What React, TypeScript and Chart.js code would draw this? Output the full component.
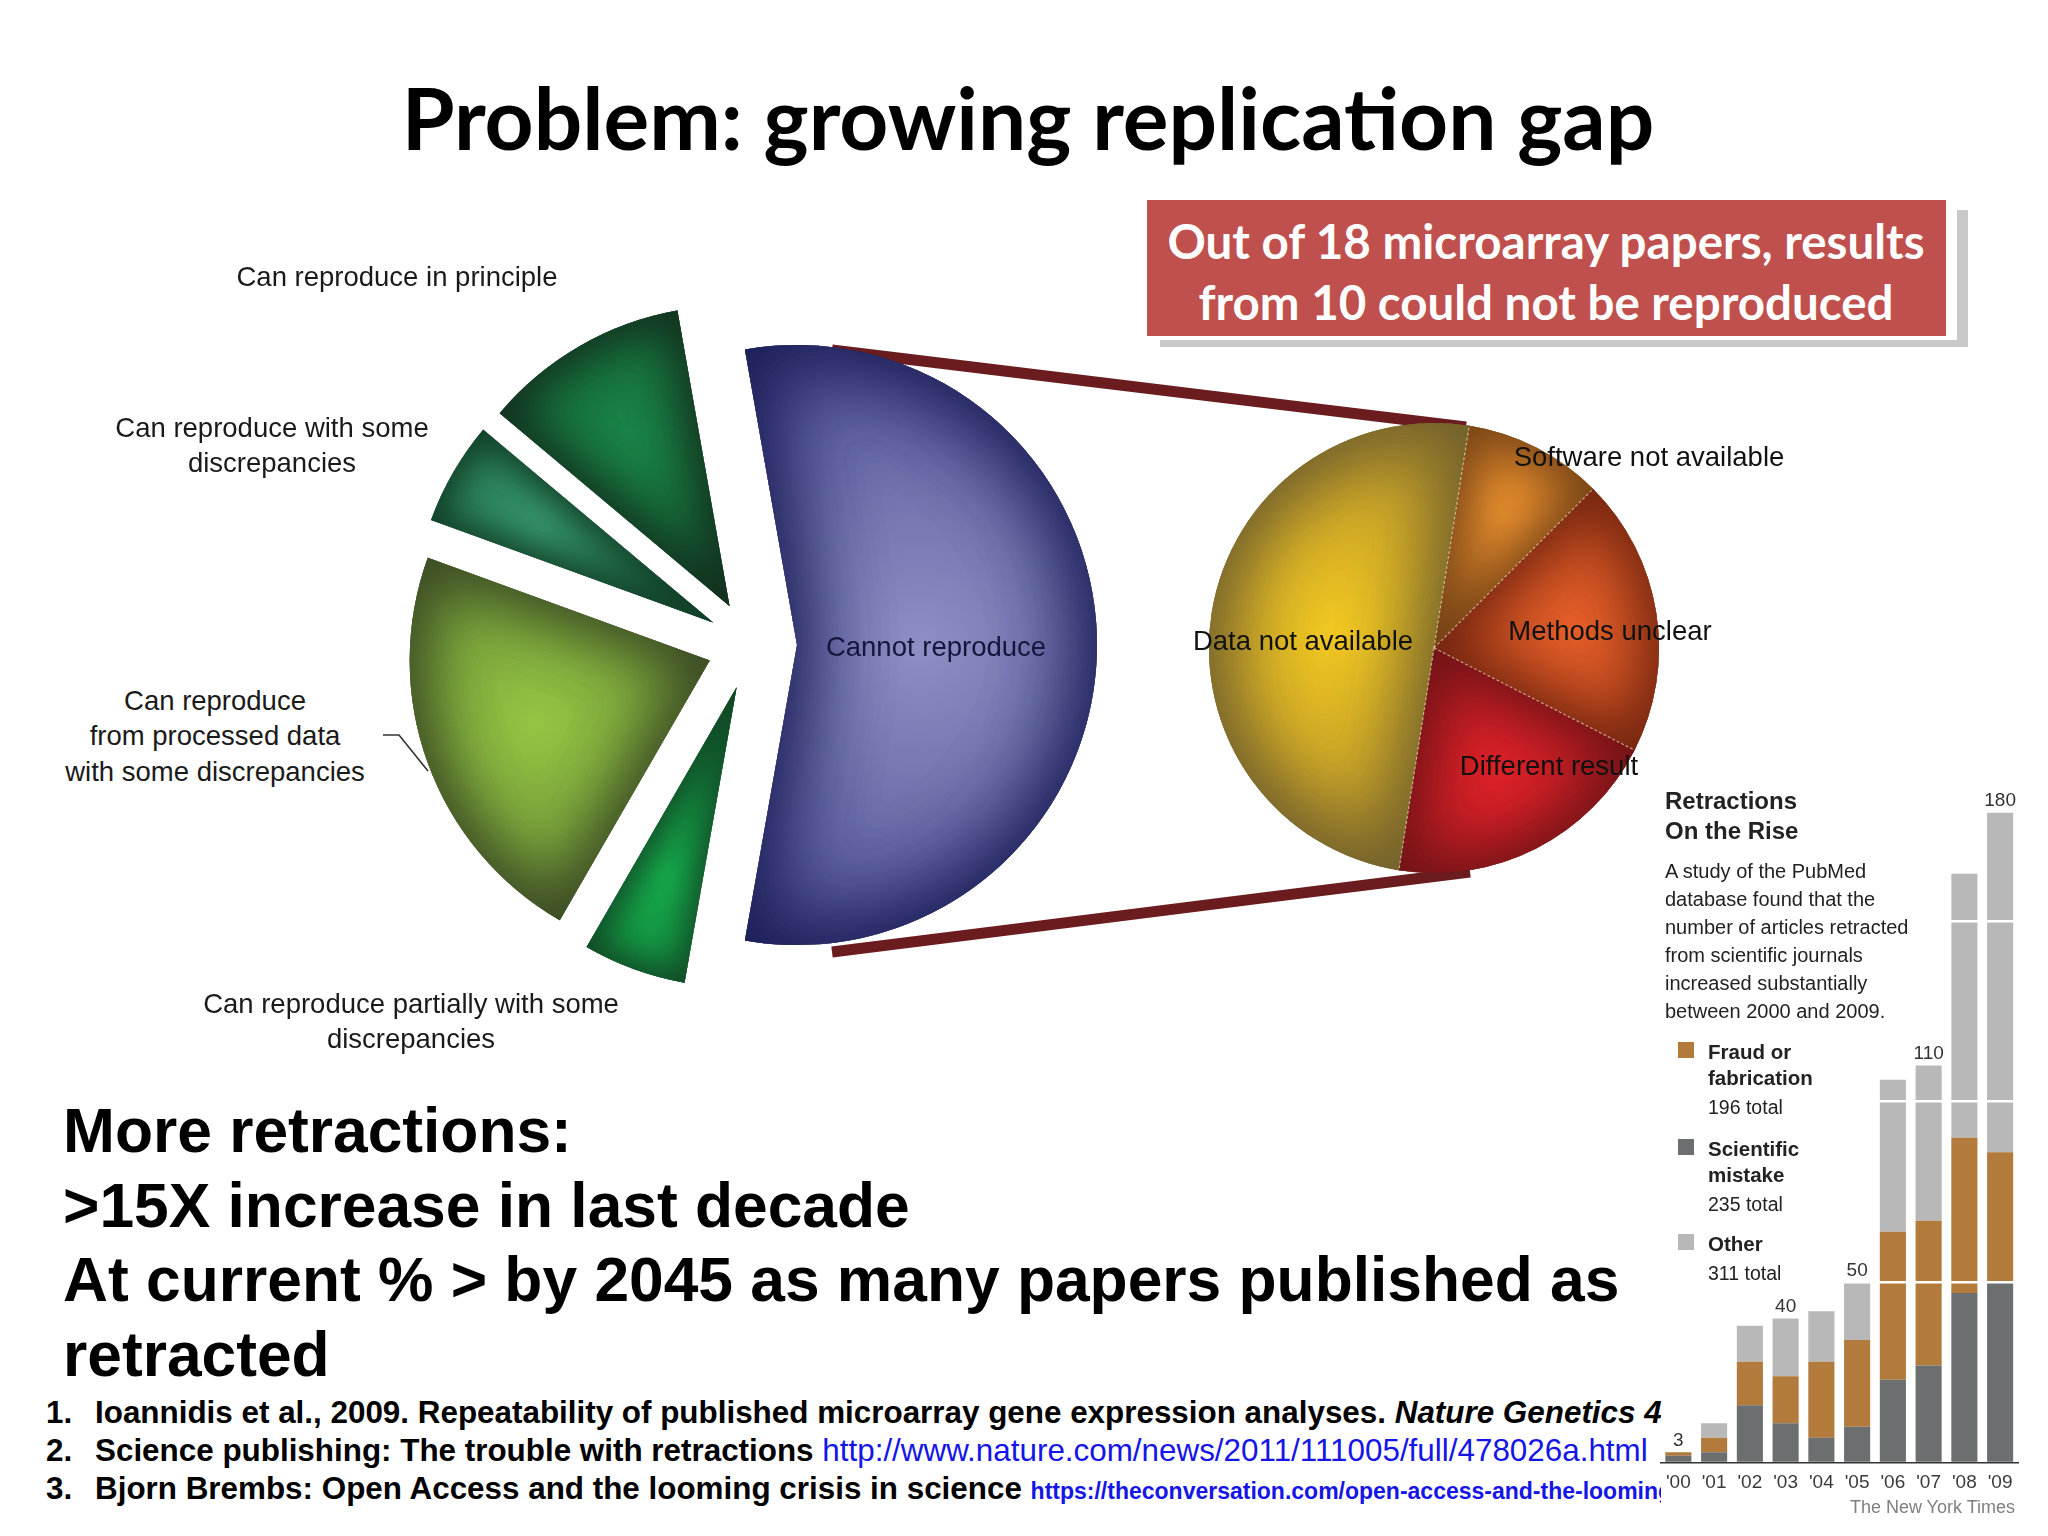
import React, { useEffect, useRef } from "react";
import { Chart, registerables } from "chart.js";

Chart.register(...registerables);

/* ---------------- data ---------------- */
const titleText = "Problem: growing replication gap";
const calloutLines = ["Out of 18 microarray papers, results", "from 10 could not be reproduced"];

const reproLabels = [
  "Cannot reproduce",
  "Can reproduce partially with some discrepancies",
  "Can reproduce from processed data with some discrepancies",
  "Can reproduce with some discrepancies",
  "Can reproduce in principle",
];
const reproCounts = [10, 1, 4, 1, 2];
const reproLabelLines = [
  ["Cannot reproduce"],
  ["Can reproduce partially with some", "discrepancies"],
  ["Can reproduce", "from processed data", "with some discrepancies"],
  ["Can reproduce with some", "discrepancies"],
  ["Can reproduce in principle"],
];

const failureLabels = ["Software not available", "Methods unclear", "Different result", "Data not available"];
const failureCounts = [1, 2, 2, 5];

const retractionYears = ["'00", "'01", "'02", "'03", "'04", "'05", "'06", "'07", "'08", "'09"];
const mistakeCounts = [2, 3, 16, 11, 7, 10, 23, 27, 47, 50];
const fraudCounts = [1, 4, 12, 13, 21, 24, 41, 40, 43, 36];
const otherCounts = [0, 4, 10, 16, 14, 16, 42, 43, 73, 94];
const labelledYears = ["'00", "'03", "'05", "'07", "'09"];
const gridValues = [50, 100, 150];

const panelTitle = ["Retractions", "On the Rise"];
const panelNote = [
  "A study of the PubMed",
  "database found that the",
  "number of articles retracted",
  "from scientific journals",
  "increased substantially",
  "between 2000 and 2009.",
];
const legendNames = [["Fraud or", "fabrication"], ["Scientific", "mistake"], ["Other"]];
const legendTotals = ["196 total", "235 total", "311 total"];
const creditText = "The New York Times";

const bulletLines = [
  "More retractions:",
  ">15X increase in last decade",
  "At current % > by 2045 as many papers published as",
  "retracted",
];

type Part = { t: string; k: "b" | "i" | "url" | "urlSmall" };
const references: { n: string; parts: Part[] }[] = [
  {
    n: "1.",
    parts: [
      { t: "Ioannidis et al., 2009. Repeatability of published microarray gene expression analyses. ", k: "b" },
      { t: "Nature Genetics 4", k: "i" },
    ],
  },
  {
    n: "2.",
    parts: [
      { t: "Science publishing: The trouble with retractions ", k: "b" },
      { t: "http://www.nature.com/news/2011/111005/full/478026a.html", k: "url" },
    ],
  },
  {
    n: "3.",
    parts: [
      { t: "Bjorn Brembs: Open Access and the looming crisis in science ", k: "b" },
      { t: "https://theconversation.com/open-access-and-the-looming", k: "urlSmall" },
    ],
  },
];

/* ---------------- styles / layout ---------------- */
const SANS = '"Liberation Sans", Arial, Helvetica, sans-serif';
const LATO = 'Lato, "Open Sans", sans-serif';

type PieGeo = { cx: number; cy: number; r: number; explode: number; rotation: number; size: number; seam: boolean };
type SliceStyle = { light: string; rim: string; shade: string; blur: number; passes: number; focus: number; spread: number };

const LEFT: PieGeo = { cx: 752, cy: 645, r: 300, explode: 45, rotation: -10, size: 760, seam: false };
const RIGHT: PieGeo = { cx: 1434, cy: 648, r: 225, explode: 0, rotation: 9, size: 500, seam: true };

const leftStyles: SliceStyle[] = [
  { light: "#8d90c4", rim: "#585b9b", shade: "rgba(24,27,84,0.95)", blur: 90, passes: 2, focus: 1.1, spread: 0.95 },
  { light: "#17b04f", rim: "#13873d", shade: "rgba(18,72,38,0.95)", blur: 40, passes: 2, focus: 1.0, spread: 0.45 },
  { light: "#93c543", rim: "#6f9439", shade: "rgba(58,72,36,0.95)", blur: 70, passes: 2, focus: 1.0, spread: 0.6 },
  { light: "#389a6c", rim: "#23714b", shade: "rgba(18,62,40,0.95)", blur: 40, passes: 2, focus: 1.0, spread: 0.45 },
  { light: "#1b8549", rim: "#146336", shade: "rgba(20,48,30,0.95)", blur: 55, passes: 2, focus: 1.0, spread: 0.55 },
];
const rightStyles: SliceStyle[] = [
  { light: "#f09530", rim: "#c27226", shade: "rgba(112,64,22,0.9)", blur: 60, passes: 2, focus: 1.0, spread: 0.6 },
  { light: "#e6602a", rim: "#b6471e", shade: "rgba(112,36,16,0.9)", blur: 65, passes: 2, focus: 1.0, spread: 0.6 },
  { light: "#df2229", rim: "#ad1c23", shade: "rgba(108,20,22,0.9)", blur: 65, passes: 2, focus: 1.0, spread: 0.6 },
  { light: "#f2c922", rim: "#c49f2a", shade: "rgba(108,92,46,0.95)", blur: 85, passes: 2, focus: 1.0, spread: 0.8 },
];

const barColors = { mistake: "#6c6f6f", fraud: "#b27a3b", other: "#b8b8b8" };
const legendColors = [barColors.fraud, barColors.mistake, barColors.other];

const leftLabelPos = [
  { x: 936, y: 646, color: "#16163c" },
  { x: 411, y: 1003, color: "#1a1a1a" },
  { x: 215, y: 700, color: "#1a1a1a" },
  { x: 272, y: 427, color: "#1a1a1a" },
  { x: 397, y: 276, color: "#1a1a1a" },
];
const rightLabelPos = [
  { x: 1649, y: 456 },
  { x: 1610, y: 630 },
  { x: 1549, y: 765 },
  { x: 1303, y: 640 },
];

/* ---------------- charts ---------------- */
function makePie(canvas: HTMLCanvasElement, labels: string[], counts: number[], geo: PieGeo, styles: SliceStyle[]) {
  const total = counts.reduce((a, b) => a + b, 0);
  const fill = (c: any) => {
    const st = styles[c.dataIndex];
    const ca = c.chart.chartArea;
    if (!ca) return st.rim;
    const i = c.dataIndex;
    let before = 0;
    for (let k = 0; k < i; k++) before += counts[k];
    const alpha = (counts[i] / total) * Math.PI * 2;
    const a0 = ((geo.rotation - 90) * Math.PI) / 180 + (before / total) * Math.PI * 2;
    const mid = a0 + alpha / 2;
    const ox = (ca.left + ca.right) / 2;
    const oy = (ca.top + ca.bottom) / 2;
    const cd = (4 * geo.r * Math.sin(alpha / 2)) / (3 * alpha);
    const gx = ox + Math.cos(mid) * cd * st.focus;
    const gy = oy + Math.sin(mid) * cd * st.focus;
    const g = c.chart.ctx.createRadialGradient(gx, gy, 0, gx, gy, geo.r * st.spread);
    g.addColorStop(0, st.light);
    g.addColorStop(1, st.rim);
    return g;
  };

  const shade = {
    id: "sliceShade",
    afterDatasetUpdate(chart: any, args: any) {
      const meta = chart.getDatasetMeta(args.index);
      meta.data.forEach((arc: any) => {
        const d = ((arc.options && arc.options.offset) || 0) / 4;
        const ro = d * (1 - Math.sin(Math.min(Math.PI, arc.circumference)));
        const w = ro / (2 * Math.PI * geo.r);
        const half = (arc.startAngle + arc.endAngle) / 2;
        arc.$geom = { x: arc.x + Math.cos(half) * d, y: arc.y + Math.sin(half) * d, a0: arc.startAngle, a1: arc.endAngle };
        arc.outerRadius = geo.r - ro;
        arc.startAngle -= w;
        arc.endAngle += w;
      });
    },
    afterDatasetsDraw(chart: any) {
      const ctx = chart.ctx as CanvasRenderingContext2D;
      const arcs = chart.getDatasetMeta(0).data;
      arcs.forEach((arc: any, i: number) => {
        const g = arc.$geom;
        if (!g) return;
        const st = styles[i];
        const path = () => {
          ctx.moveTo(g.x, g.y);
          ctx.arc(g.x, g.y, geo.r, g.a0, g.a1);
          ctx.closePath();
        };
        ctx.save();
        ctx.beginPath();
        path();
        ctx.clip();
        ctx.shadowColor = st.shade;
        ctx.shadowBlur = st.blur;
        ctx.fillStyle = st.shade;
        for (let k = 0; k < st.passes; k++) {
          ctx.beginPath();
          ctx.rect(-4000, -4000, 8000, 8000);
          path();
          ctx.fill("evenodd");
        }
        ctx.restore();
      });
      if (geo.seam) {
        ctx.save();
        ctx.strokeStyle = "rgba(255,236,200,0.6)";
        ctx.lineWidth = 1.2;
        ctx.setLineDash([3, 2]);
        arcs.forEach((arc: any) => {
          const g = arc.$geom;
          if (!g) return;
          ctx.beginPath();
          ctx.moveTo(g.x, g.y);
          ctx.lineTo(g.x + Math.cos(g.a0) * geo.r, g.y + Math.sin(g.a0) * geo.r);
          ctx.stroke();
        });
        ctx.restore();
      }
    },
  };

  return new Chart(canvas, {
    type: "pie",
    data: {
      labels,
      datasets: [
        {
          data: counts,
          backgroundColor: fill as any,
          borderWidth: 0,
          offset: geo.explode * 4,
        } as any,
      ],
    },
    options: {
      animation: false,
      responsive: false,
      events: [],
      rotation: geo.rotation,
      radius: geo.r,
      layout: { padding: 0 },
      plugins: { legend: { display: false }, tooltip: { enabled: false } },
    } as any,
    plugins: [shade as any],
  });
}

function makeBars(canvas: HTMLCanvasElement) {
  const totals = retractionYears.map((_, i) => mistakeCounts[i] + fraudCounts[i] + otherCounts[i]);
  const totalsPlugin = {
    id: "totals",
    afterDatasetsDraw(chart: any) {
      const ctx = chart.ctx as CanvasRenderingContext2D;
      const xs = chart.scales.x;
      const ys = chart.scales.y;
      ctx.save();
      ctx.font = `19px ${SANS}`;
      ctx.fillStyle = "#333";
      ctx.textAlign = "center";
      ctx.textBaseline = "alphabetic";
      retractionYears.forEach((yr, i) => {
        if (!labelledYears.includes(yr)) return;
        ctx.fillText(String(totals[i]), xs.getPixelForValue(i), ys.getPixelForValue(totals[i]) - 6);
      });
      ctx.restore();
    },
  };
  return new Chart(canvas, {
    type: "bar",
    data: {
      labels: retractionYears,
      datasets: [
        { label: "Scientific mistake", data: mistakeCounts, backgroundColor: barColors.mistake },
        { label: "Fraud or fabrication", data: fraudCounts, backgroundColor: barColors.fraud },
        { label: "Other", data: otherCounts, backgroundColor: barColors.other },
      ],
    },
    options: {
      animation: false,
      responsive: false,
      events: [],
      layout: { padding: { left: 10.5, right: 30, top: 42.4, bottom: 33 } },
      datasets: { bar: { barPercentage: 0.73, categoryPercentage: 1, borderWidth: 0 } },
      plugins: { legend: { display: false }, tooltip: { enabled: false } },
      scales: {
        x: {
          stacked: true,
          grid: { display: false, drawTicks: false },
          border: { display: true, color: "#333", width: 1.5 },
          ticks: { color: "#3a3a3a", font: { family: SANS, size: 19 }, padding: 8, autoSkip: false, maxRotation: 0 },
          afterFit: (s: any) => {
            s.height = 40;
          },
        },
        y: {
          stacked: true,
          min: 0,
          max: 180,
          ticks: { display: false, stepSize: 50 },
          grid: {
            color: (c: any) => (gridValues.includes(c.tick && c.tick.value) ? "#ffffff" : "rgba(0,0,0,0)"),
            lineWidth: 2.5,
            z: 1,
            drawTicks: false,
          },
          border: { display: false },
        },
      },
    } as any,
    plugins: [totalsPlugin as any],
  });
}

/* ---------------- text helper ---------------- */
function T(props: {
  x: number;
  y: number;
  size: number;
  text: string;
  align?: "left" | "center" | "right";
  weight?: number;
  color?: string;
  family?: string;
  mid?: number;
  z?: number;
  italic?: boolean;
}) {
  const { x, y, size, text, align = "left", weight = 400, color = "#000", family = SANS, mid = 0.6, z = 3, italic } = props;
  const tx = align === "center" ? "-50%" : align === "right" ? "-100%" : "0";
  return (
    <div
      style={{
        position: "absolute",
        left: x,
        top: y - size * mid,
        fontSize: size,
        lineHeight: `${size * 1.2}px`,
        whiteSpace: "pre",
        transform: `translateX(${tx})`,
        fontWeight: weight,
        fontStyle: italic ? "italic" : "normal",
        color,
        fontFamily: family,
        zIndex: z,
      }}
    >
      {text}
    </div>
  );
}

export default function App() {
  const leftRef = useRef<HTMLCanvasElement>(null);
  const rightRef = useRef<HTMLCanvasElement>(null);
  const barRef = useRef<HTMLCanvasElement>(null);

  useEffect(() => {
    const charts: Chart[] = [];
    if (leftRef.current) charts.push(makePie(leftRef.current, reproLabels, reproCounts, LEFT, leftStyles));
    if (rightRef.current) charts.push(makePie(rightRef.current, failureLabels, failureCounts, RIGHT, rightStyles));
    if (barRef.current) charts.push(makeBars(barRef.current));
    return () => charts.forEach((c) => c.destroy());
  }, []);

  const refY = [1413, 1451, 1489];
  const refSize = 31.4;
  const partStyle = (k: Part["k"]): React.CSSProperties => {
    if (k === "i") return { fontStyle: "italic", fontWeight: 700, color: "#000" };
    if (k === "url") return { fontWeight: 400, color: "#1515e8" };
    if (k === "urlSmall") return { fontWeight: 700, color: "#1515e8", fontSize: 23 };
    return { fontWeight: 700, color: "#000" };
  };

  return (
    <div
      style={{
        position: "absolute",
        left: 0,
        top: 0,
        width: 2048,
        height: 1536,
        overflow: "hidden",
        background: "#ffffff",
        fontFamily: SANS,
      }}
    >
      {/* connectors & leader */}
      <svg width={2048} height={1536} style={{ position: "absolute", left: 0, top: 0, zIndex: 1 }}>
        <line x1={832} y1={350} x2={1466} y2={427} stroke="#6a1c1f" strokeWidth={11} />
        <line x1={832} y1={952} x2={1470} y2={872} stroke="#6a1c1f" strokeWidth={11} />
        <polyline points="383,735 399,735 428,771" fill="none" stroke="#333" strokeWidth={1.6} />
      </svg>

      <canvas
        ref={leftRef}
        width={LEFT.size}
        height={LEFT.size}
        style={{ position: "absolute", left: LEFT.cx - LEFT.size / 2, top: LEFT.cy - LEFT.size / 2, width: LEFT.size, height: LEFT.size, zIndex: 2 }}
      />
      <canvas
        ref={rightRef}
        width={RIGHT.size}
        height={RIGHT.size}
        style={{ position: "absolute", left: RIGHT.cx - RIGHT.size / 2, top: RIGHT.cy - RIGHT.size / 2, width: RIGHT.size, height: RIGHT.size, zIndex: 2 }}
      />

      {/* title */}
      <T x={1028} y={120} size={85.5} text={titleText} align="center" weight={700} family={LATO} mid={0.63} />

      {/* callout box */}
      <div style={{ position: "absolute", left: 1160, top: 210, width: 808, height: 137, background: "#c9c9c9", zIndex: 3 }} />
      <div style={{ position: "absolute", left: 1140, top: 192, width: 817, height: 148, background: "#ffffff", zIndex: 3 }} />
      <div style={{ position: "absolute", left: 1147, top: 200, width: 799, height: 136, background: "#c0504d", zIndex: 3 }} />
      {calloutLines.map((l, i) => (
        <T key={l} x={1546} y={242 + i * 61} size={47.5} text={l} align="center" weight={700} family={LATO} color="#ffffff" mid={0.63} z={4} />
      ))}

      {/* left pie labels */}
      {reproLabelLines.map((lines, i) =>
        lines.map((l, j) => (
          <T key={`${i}-${j}`} x={leftLabelPos[i].x} y={leftLabelPos[i].y + j * 35.5} size={27.5} text={l} align="center" color={leftLabelPos[i].color} />
        ))
      )}
      {/* right pie labels */}
      {failureLabels.map((l, i) => (
        <T key={l} x={rightLabelPos[i].x} y={rightLabelPos[i].y} size={27.5} text={l} align="center" color="#111" />
      ))}

      {/* bullet text */}
      {bulletLines.map((l, i) => (
        <T key={l} x={63} y={1131 + i * 74.9} size={62.3} text={l} weight={700} color="#000" />
      ))}

      {/* references */}
      {references.map((r, i) => (
        <React.Fragment key={r.n}>
          <T x={46} y={refY[i]} size={refSize} text={r.n} weight={700} />
          <div
            style={{
              position: "absolute",
              left: 95,
              top: refY[i] - refSize * 0.6,
              fontSize: refSize,
              lineHeight: `${refSize * 1.2}px`,
              whiteSpace: "pre",
              fontFamily: SANS,
              zIndex: 3,
            }}
          >
            {r.parts.map((p, j) => (
              <span key={j} style={partStyle(p.k)}>
                {p.t}
              </span>
            ))}
          </div>
        </React.Fragment>
      ))}

      {/* retractions panel */}
      <div style={{ position: "absolute", left: 1661, top: 770, width: 387, height: 766, background: "#ffffff", zIndex: 5 }} />
      <canvas ref={barRef} width={398} height={766} style={{ position: "absolute", left: 1650, top: 770, width: 398, height: 766, zIndex: 6 }} />
      {panelTitle.map((l, i) => (
        <T key={l} x={1665} y={801 + i * 30} size={24} text={l} weight={700} color="#222" z={7} />
      ))}
      {panelNote.map((l, i) => (
        <T key={l} x={1665} y={871 + i * 28} size={20} text={l} color="#222" z={7} />
      ))}
      {legendNames.map((names, i) => {
        const top = [1042, 1139, 1234][i];
        return (
          <React.Fragment key={i}>
            <div style={{ position: "absolute", left: 1678, top, width: 16, height: 16, background: legendColors[i], zIndex: 7 }} />
            {names.map((n, j) => (
              <T key={n} x={1708} y={top + 10.5 + j * 26} size={20.5} text={n} weight={700} color="#222" z={7} />
            ))}
            <T x={1708} y={top + 10.5 + names.length * 26 + 3} size={19.5} text={legendTotals[i]} color="#222" z={7} />
          </React.Fragment>
        );
      })}
      <T x={2015} y={1508} size={18} text={creditText} align="right" color="#808080" z={7} />
    </div>
  );
}
